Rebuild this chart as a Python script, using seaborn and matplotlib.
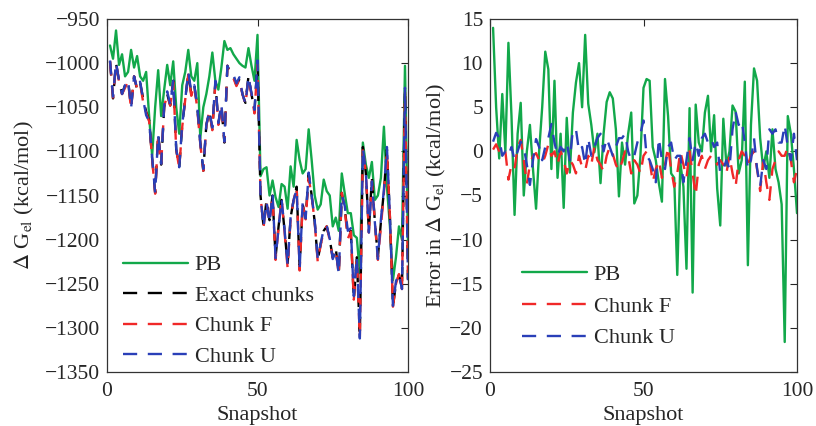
import numpy as np
import pandas as pd
import matplotlib
matplotlib.use("Agg")
import matplotlib.pyplot as plt
import seaborn as sns

snapshots = list(range(1, 101))

pb_energy = [-980, -995, -963, -1002, -990, -1015, -1010, -985, -1005, -992,
             -1015, -1020, -1010, -1060, -1105, -1050, -1008, -1060, -1030, -1002,
             -1025, -998, -1050, -1080, -1025, -1010, -985, -1015, -1020, -1000,
             -1085, -1050, -1035, -1015, -988, -1020, -1030, -1005, -975, -985,
             -983, -990, -995, -1000, -1003, -1005, -983, -1003, -1020, -968,
             -1128, -1120, -1118, -1150, -1133, -1152, -1163, -1137, -1140, -1165,
             -1117, -1140, -1087, -1110, -1125, -1120, -1075, -1110, -1150, -1166,
             -1160, -1132, -1145, -1150, -1185, -1175, -1190, -1125, -1148, -1170,
             -1170, -1195, -1198, -1238, -1090, -1115, -1130, -1112, -1155, -1150,
             -1130, -1072, -1140, -1185, -1246, -1220, -1185, -1200, -1003, -1205]

exact_energy = [-998, -1040, -1000, -1020, -1035, -1025, -1020, -1050, -1015, -1030,
                -1022, -1040, -1055, -1065, -1108, -1147, -1080, -1115, -1050, -1035,
                -1048, -1020, -1098, -1118, -1070, -1040, -1012, -1035, -1025, -1050,
                -1090, -1122, -1070, -1055, -1075, -1022, -1068, -1048, -1090, -1003,
                -1012, -1015, -1025, -1018, -1035, -1045, -1015, -1035, -1055, -1000,
                -1150, -1185, -1155, -1178, -1150, -1220, -1185, -1155, -1190, -1228,
                -1175, -1155, -1140, -1232, -1160, -1175, -1125, -1150, -1180, -1223,
                -1205, -1190, -1185, -1200, -1220, -1210, -1238, -1147, -1165, -1195,
                -1190, -1268, -1220, -1310, -1095, -1125, -1190, -1130, -1180, -1220,
                -1180, -1145, -1098, -1175, -1276, -1250, -1240, -1255, -1030, -1245]

chunkf_energy = [-998, -1039, -1000, -1021, -1035, -1028, -1021, -1052, -1015, -1029,
                 -1023, -1044, -1056, -1066, -1108, -1148, -1081, -1115, -1049, -1036,
                 -1048, -1021, -1098, -1119, -1072, -1041, -1013, -1037, -1025, -1052,
                 -1092, -1122, -1071, -1054, -1076, -1023, -1070, -1048, -1089, -1003,
                 -1013, -1017, -1026, -1018, -1035, -1047, -1016, -1036, -1057, -1000,
                 -1150, -1186, -1158, -1180, -1151, -1223, -1186, -1154, -1192, -1232,
                 -1177, -1155, -1141, -1235, -1160, -1177, -1130, -1151, -1180, -1225,
                 -1206, -1190, -1185, -1201, -1221, -1211, -1240, -1147, -1167, -1199,
                 -1191, -1268, -1220, -1311, -1095, -1125, -1192, -1134, -1181, -1223,
                 -1185, -1147, -1099, -1175, -1276, -1250, -1239, -1256, -1033, -1247]

chunku_energy = [-997, -1038, -999, -1020, -1035, -1025, -1019, -1051, -1015, -1029,
                 -1021, -1041, -1059, -1066, -1107, -1147, -1081, -1114, -1048, -1032,
                 -1047, -1020, -1097, -1118, -1069, -1041, -1010, -1032, -1025, -1049,
                 -1091, -1120, -1070, -1054, -1073, -1020, -1068, -1046, -1089, -1003,
                 -1011, -1013, -1023, -1016, -1035, -1046, -1015, -1034, -1053, -997,
                 -1150, -1186, -1157, -1181, -1148, -1221, -1187, -1154, -1189, -1229,
                 -1175, -1155, -1143, -1233, -1158, -1176, -1124, -1150, -1178, -1221,
                 -1204, -1188, -1184, -1199, -1222, -1212, -1239, -1149, -1162, -1190,
                 -1187, -1264, -1219, -1312, -1096, -1123, -1192, -1134, -1181, -1222,
                 -1177, -1143, -1095, -1174, -1275, -1247, -1239, -1256, -1028, -1246]

pb_error = [14, 5, -0.8, 6.5, 0, 12.3, 4, -7.2, 2, 5.5,
            -5, 0, 3, -2, -6.5, 0, 5, 11.3, 9.3, -2,
            8, -3, 2, -6.4, 3.8, -2.4, 4.4, 7.8, 10, 5,
            13.2, 5.4, 3, -0.1, 2, -3.6, 2, 5.6, 6.7, 6,
            2.5, -5.1, 1, -1.5, 2, 4.4, -5.9, -5, -0.5, 7.2,
            8.2, 8, 0.5, -1, -3.6, -5.7, 8.2, 4, -2.5, -3,
            -14, -1.3, -4, -13.3, 4.9, -16, 5.3, 1, 0, 4.4,
            6.3, 0, 4.1, -4.2, -8.4, 3.7, -1.6, 0, 5.2, 4.5,
            -2.5, -1, 7.9, -12.9, 3, 9.4, 8, 1.5, -2, 0,
            -3, 2.5, -2, -3.5, -6, -21.6, 4, 2, -2, -7]

chunkf_error = [0.2, 0.8, 0, -0.5, 0, -3.2, -1.5, -2, 0.5, 1.3,
                -1, -3.7, -1.5, -0.5, -0.2, -1, -1.4, -0.5, 0.8, -0.5,
                0, -1.5, 0, -1, -2.5, -1, -1.5, -2.5, -0.5, -1.8,
                -2.2, -0.5, -1.5, 0.5, -1, -1.5, -2.3, -0.5, 0.5, -0.3,
                -1.5, -2.2, -1.2, 0, -0.5, -2.5, -1, -1.5, -2.5, -0.5,
                0, -1, -3.5, -2, -1, -3, -1.5, 0.5, -2, -4,
                -2.5, 0, -1.5, -3, 0, -2.5, -5, -1.5, -0.5, -2,
                -1, -0.5, -0.5, -1.5, -1, -1.5, -2.5, -0.5, -2.5, -4,
                -1, 0, -0.5, -1.5, -0.5, 0, -2, -4.5, -1, -3.5,
                -5.5, -2, -1, 0, -0.5, -0.5, 0.5, -1, -3.5, -2]

chunku_error = [1.1, 2.1, 1.5, -0.5, 0, -0.5, 0.5, -1, 0, 1.1,
                0.5, -1.5, -3.8, -1, 1.4, 0.5, -1, 0.5, 1.5, 3.1,
                1, -0.5, 0.5, 0, 1, -1, 2.5, 2.5, 0, 0.5,
                -1.5, 1.5, -0.5, 0.5, 1.5, 2, 0, 1.5, 0.5, -0.5,
                0.5, 1.5, 1.5, 2, 0, -1, -0.5, 1, 2, 3.5,
                -0.5, -1, -2, -3.5, 1.5, -1, -2, 0.5, 1, -1,
                -0.5, -0.5, -3.5, -1, 1.5, -1, 1, -0.5, 1.5, 2,
                1, 1.5, 0.5, 1, -2.5, -2, -1, -2, 2.5, 4.5,
                3, 3.5, 1, -2, -1, 1.5, -2, -4, -1, -2,
                2.5, 2, 2.5, 1, 1, 3, 0.5, -1, 2, -1]

left_yticks = [-950, -1000, -1050, -1100, -1150, -1200, -1250, -1300, -1350]
right_yticks = [15, 10, 5, 0, -5, -10, -15, -20, -25]
xticks = [0, 50, 100]

sns.set_style("white")
plt.rcParams["font.family"] = ["Liberation Serif", "DejaVu Serif"]
plt.rcParams["mathtext.fontset"] = "stix"
plt.rcParams["axes.unicode_minus"] = True

GREEN = "#12a84a"
RED = "#f02828"
BLUE = "#2a3fb8"
BLACK = "#000000"

fig = plt.figure(figsize=(8.16, 4.26), dpi=100)
axL = fig.add_axes([107/816, 1-372/426, (408-107)/816, (372-19)/426])
axR = fig.add_axes([490/816, 1-372/426, (797-490)/816, (372-19)/426])

dfL = pd.DataFrame({"Snapshot": snapshots, "PB": pb_energy, "Exact chunks": exact_energy,
                    "Chunk F": chunkf_energy, "Chunk U": chunku_energy})
dfR = pd.DataFrame({"Snapshot": snapshots, "PB": pb_error, "Chunk F": chunkf_error,
                    "Chunk U": chunku_error})

lw = 1.7
dash = (6, 4.5)

def draw(ax, df, specs):
    for name, color, dashed in specs:
        sns.lineplot(data=df, x="Snapshot", y=name, ax=ax, color=color, lw=lw,
                     label=name, legend=False)
        line = ax.get_lines()[-1]
        if dashed:
            line.set_dashes(dash)

draw(axL, dfL, [("PB", GREEN, False), ("Exact chunks", BLACK, True),
                ("Chunk F", RED, True), ("Chunk U", BLUE, True)])
draw(axR, dfR, [("PB", GREEN, False), ("Chunk F", RED, True), ("Chunk U", BLUE, True)])

for ax in (axL, axR):
    ax.set_xlim(0, 100)
    ax.set_xticks(xticks)
    ax.set_xlabel("Snapshot", fontsize=16, labelpad=3.5)
    ax.tick_params(direction="in", length=5, width=0.8, top=True, right=True,
                   labelsize=15.5, pad=5)
    ax.tick_params(axis="x", pad=7)
    for sp in ax.spines.values():
        sp.set_linewidth(0.9)
        sp.set_color("#333333")

axL.set_ylim(-1350, -950)
axL.set_yticks(left_yticks)
axL.set_ylabel(r"$\Delta$ G$_{\rm el}$ (kcal/mol)", fontsize=16, labelpad=6)
axR.set_ylim(-25, 15)
axR.set_yticks(right_yticks)
axR.set_ylabel(r"Error in $\Delta$ G$_{\rm el}$ (kcal/mol)", fontsize=16, labelpad=1)

legL = axL.legend(loc="lower left", bbox_to_anchor=(0.0, -0.03), frameon=False,
                  fontsize=16, handlelength=2.95, handletextpad=0.3, labelspacing=0.45,
                  borderaxespad=0.3)
legR = axR.legend(loc="lower left", bbox_to_anchor=(0.055, 0.023), frameon=False,
                  fontsize=16, handlelength=2.9, handletextpad=0.3, labelspacing=0.5,
                  borderaxespad=0.3)

fig.savefig("out.png", dpi=100)
